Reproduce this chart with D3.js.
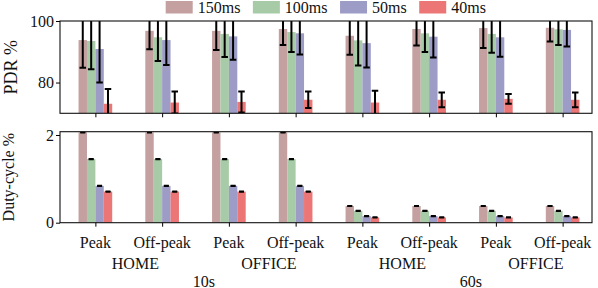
<!DOCTYPE html>
<html>
<head>
<meta charset="UTF-8">
<script src="https://d3js.org/d3.v7.min.js"></script>
<style>
  body { margin: 0; background: #fff; }
  text { font-family: "Liberation Serif", "Times New Roman", serif; fill: #111; }
</style>
</head>
<body>
<svg></svg>
<script>
// ---- data ----
const groups = ["Peak", "Off-peak", "Peak", "Off-peak", "Peak", "Off-peak", "Peak", "Off-peak"];
const places = ["HOME", "OFFICE", "HOME", "OFFICE"];
const periods = ["10s", "60s"];
const seriesNames = ["150ms", "100ms", "50ms", "40ms"];
const colors = ["#c4a0a0", "#a8cba7", "#9c9cc6", "#ec7676"];

// PDR % (mean) and error, per series across the 8 groups
const pdr150 = [93.8, 96.8, 96.8, 97.4, 95.2, 97.4, 97.7, 97.8];
const pdr100 = [93.5, 94.7, 95.8, 96.4, 93.7, 96.0, 95.8, 97.3];
const pdr50  = [90.9, 93.8, 95.0, 96.0, 92.8, 94.9, 94.7, 97.1];
const pdr40  = [73.1, 73.5, 73.7, 74.4, 73.5, 74.4, 74.7, 74.4];
const pdrErr150 = [9.0, 6.0, 6.2, 5.2, 6.2, 5.4, 6.5, 4.5];
const pdrErr100 = [9.2, 7.7, 7.5, 6.5, 8.2, 6.1, 6.1, 5.1];
const pdrErr50  = [10.9, 8.1, 7.6, 6.9, 7.9, 6.8, 6.3, 5.4];
const pdrErr40  = [4.8, 3.6, 3.4, 2.7, 3.8, 2.4, 1.6, 2.4];

// Duty-cycle %
const duty150 = [2.06, 2.06, 2.06, 2.06, 0.38, 0.38, 0.38, 0.38];
const duty100 = [1.45, 1.45, 1.45, 1.45, 0.27, 0.27, 0.27, 0.27];
const duty50  = [0.84, 0.84, 0.84, 0.84, 0.15, 0.15, 0.15, 0.15];
const duty40  = [0.71, 0.71, 0.71, 0.71, 0.12, 0.12, 0.12, 0.12];
const dutyErr = [0.006, 0.006, 0.006, 0.006, 0.006, 0.006, 0.006, 0.006];

const pdr = [pdr150, pdr100, pdr50, pdr40];
const pdrErr = [pdrErr150, pdrErr100, pdrErr50, pdrErr40];
const duty = [duty150, duty100, duty50, duty40];

// ---- layout ----
const width = 598, height = 288;
const svg = d3.select("svg").attr("width", width).attr("height", height);

const x = d3.scaleLinear().domain([-0.53, 7.44]).range([60, 592]);
const barW = 0.126;

const yTop = d3.scaleLinear().domain([70, 100]).range([113.3, 21]);
const yBot = d3.scaleLinear().domain([0, 2.075]).range([222.7, 131.7]);

function panel(id, y, vals, errs, ticks, errW, capW) {
  const g = svg.append("g");
  const [x0, x1] = x.range();
  const [yb, yt] = y.range();

  svg.append("clipPath").attr("id", id)
    .append("rect").attr("x", x0).attr("y", yt).attr("width", x1 - x0).attr("height", yb - yt);

  const inner = g.append("g").attr("clip-path", `url(#${id})`);
  seriesNames.forEach((s, si) => {
    const off = (si - 1.5) * barW;
    inner.append("g").selectAll("rect")
      .data(vals[si])
      .join("rect")
      .attr("x", (d, i) => x(i + off - barW / 2))
      .attr("width", x(barW) - x(0))
      .attr("y", d => y(d))
      .attr("height", d => y(y.domain()[0]) - y(d))
      .attr("fill", colors[si]);
  });
  seriesNames.forEach((s, si) => {
    const off = (si - 1.5) * barW;
    const eg = inner.append("g").selectAll("g")
      .data(vals[si].map((v, i) => ({ v, e: errs[si][i], i })))
      .join("g")
      .attr("stroke", "#000").attr("stroke-width", errW);
    eg.append("line")
      .attr("x1", d => x(d.i + off)).attr("x2", d => x(d.i + off))
      .attr("y1", d => y(d.v - d.e)).attr("y2", d => y(d.v + d.e));
    eg.append("line")
      .attr("x1", d => x(d.i + off) - capW / 2).attr("x2", d => x(d.i + off) + capW / 2)
      .attr("y1", d => y(d.v - d.e)).attr("y2", d => y(d.v - d.e));
    eg.append("line")
      .attr("x1", d => x(d.i + off) - capW / 2).attr("x2", d => x(d.i + off) + capW / 2)
      .attr("y1", d => y(d.v + d.e)).attr("y2", d => y(d.v + d.e));
  });

  // frame
  g.append("rect").attr("x", x0).attr("y", yt).attr("width", x1 - x0).attr("height", yb - yt)
    .attr("fill", "none").attr("stroke", "#111").attr("stroke-width", 1.1);

  // axes
  const ya = g.append("g").attr("transform", `translate(${x0},0)`)
    .call(d3.axisLeft(y).tickValues(ticks).tickSize(4).tickPadding(2).tickFormat(d3.format("d")));
  ya.select(".domain").remove();
  ya.selectAll("text").style("font-size", "16px").style("font-family", "Liberation Serif").attr("fill", "#111");
  const xa = g.append("g").attr("transform", `translate(0,${yb})`)
    .call(d3.axisBottom(x).tickValues(d3.range(groups.length)).tickSize(4).tickFormat(""));
  xa.select(".domain").remove();
  return g;
}

panel("clipTop", yTop, pdr, pdrErr, [80, 100], 2, 6.5);
panel("clipBot", yBot, duty, duty.map(() => dutyErr), [0, 2], 1.6, 5);

// y labels
svg.append("text")
  .attr("transform", `translate(17,${(yTop.range()[0] + yTop.range()[1]) / 2}) rotate(-90)`)
  .attr("text-anchor", "middle").style("font-size", "18px").text("PDR %");
svg.append("text")
  .attr("transform", `translate(13.5,${(yBot.range()[0] + yBot.range()[1]) / 2}) rotate(-90)`)
  .attr("text-anchor", "middle").style("font-size", "16px").text("Duty-cycle %");

// category labels
svg.append("g").selectAll("text").data(groups).join("text")
  .attr("x", (d, i) => x(i)).attr("y", 247.7)
  .attr("text-anchor", "middle").style("font-size", "16px").text(d => d);
svg.append("g").selectAll("text").data(places).join("text")
  .attr("x", (d, i) => (x(2 * i) + x(2 * i + 1)) / 2 + 6.6).attr("y", 269.3)
  .attr("text-anchor", "middle").style("font-size", "16px").text(d => d);
svg.append("g").selectAll("text").data(periods).join("text")
  .attr("x", (d, i) => (x(4 * i) + x(4 * i + 3)) / 2 + 8.3).attr("y", 286.5)
  .attr("text-anchor", "middle").style("font-size", "16px").text(d => d);

// legend
const leg = svg.append("g");
let lx = 165.7;
seriesNames.forEach((s, si) => {
  leg.append("rect").attr("x", lx).attr("y", 1).attr("width", 27).attr("height", 12.5)
    .attr("fill", colors[si]);
  const t = leg.append("text").attr("x", lx + 32).attr("y", 13.2)
    .style("font-size", "16px").text(s);
  lx += 32 + t.node().getComputedTextLength() + 12.5;
});
</script>
</body>
</html>
